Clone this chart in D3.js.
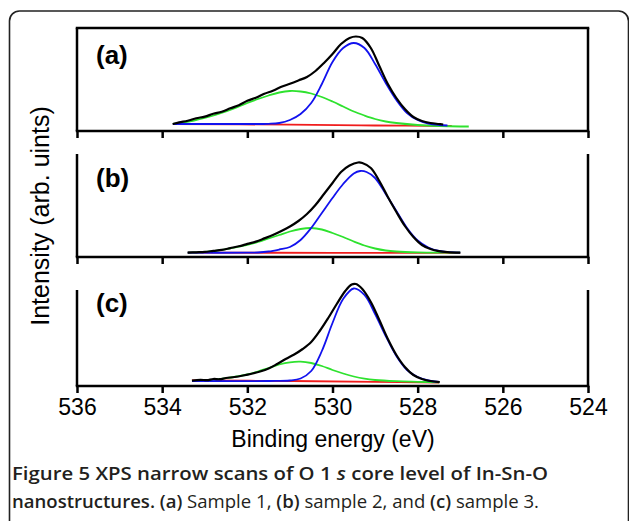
<!DOCTYPE html>
<html>
<head>
<meta charset="utf-8">
<script src="https://cdn.jsdelivr.net/npm/d3@7"></script>
<style>
  body { margin: 0; background: #fff; }
  svg { display: block; }
</style>
</head>
<body>
<div id="chart"></div>
<script>
// x ticks (binding energy, eV)
const energyTicks = [536, 534, 532, 530, 528, 526, 524];

// panel (a) - sample 1, [eV, intensity]
const blackA = [[533.75,7],[533.6,8.6],[533.4,10.3],[533.2,12.7],[533.0,14.4],[532.8,17.2],[532.6,19.3],[532.4,22.7],[532.2,25.8],[532.0,30.2],[531.8,33.3],[531.6,37.2],[531.4,40.3],[531.2,44.2],[531.0,47.3],[530.8,50.6],[530.6,54],[530.4,60],[530.2,68],[530.0,77],[529.8,87],[529.6,93],[529.45,94.5],[529.3,93],[529.1,83],[528.9,65],[528.7,47],[528.5,33],[528.3,22],[528.1,14],[527.9,10],[527.7,8],[527.5,7],[527.4,6.5]];
const blueA = [[533.75,7],[532.5,7],[531.5,7.2],[531.25,8],[531.0,11],[530.75,17],[530.5,28],[530.25,47],[530.0,69],[529.75,83],[529.5,88],[529.25,83],[529.0,67],[528.75,48],[528.5,31],[528.25,18],[528.0,11],[527.75,7.5],[527.5,6],[527.3,5.5]];
const greenA = [[533.75,7],[533.5,8.5],[533.25,10.5],[533.0,13],[532.75,16],[532.5,19.5],[532.25,23.5],[532.0,28],[531.75,32],[531.5,35.5],[531.25,38.5],[531.0,40],[530.75,39.5],[530.5,37.5],[530.25,34],[530.0,29.5],[529.75,24.5],[529.5,19.5],[529.25,15.5],[529.0,12],[528.75,9.5],[528.5,8],[528.0,6],[527.5,5],[527.0,4.5],[526.8,4.5]];
const redA = [[533.75,7],[531.0,6.3],[529.0,5.5],[527.2,5]];

// panel (b) - sample 2
const blackB = [[533.4,4.3],[533.2,4.7],[533.0,5.1],[532.8,6.1],[532.6,7.1],[532.4,8.9],[532.2,10.7],[532.0,13.1],[531.8,15.4],[531.6,18.6],[531.4,22],[531.2,26],[531.0,30.5],[530.8,36],[530.6,43],[530.4,52],[530.2,63],[530.0,74],[529.8,85],[529.6,91.5],[529.4,94.5],[529.3,94],[529.1,89],[528.9,76],[528.7,60],[528.5,45],[528.3,31],[528.1,20],[527.9,12],[527.7,8],[527.5,5.8],[527.3,4.8],[527.0,4.3]];
const blueB = [[533.4,4.3],[532.0,4.3],[531.75,4.5],[531.5,5.5],[531.25,7.5],[531.0,10],[530.75,17],[530.5,29],[530.25,44],[530.0,59],[529.75,73],[529.5,83.5],[529.35,86],[529.2,85],[529.0,79],[528.75,63],[528.5,46],[528.25,29],[528.0,16.5],[527.75,9.5],[527.5,6],[527.25,4.8],[527.0,4.3]];
const greenB = [[533.4,4.3],[533.0,5],[532.75,6],[532.5,7.8],[532.25,9.8],[532.0,12],[531.75,15],[531.5,18.5],[531.25,22],[531.0,25.5],[530.75,28],[530.5,29],[530.25,27.5],[530.0,24],[529.75,20],[529.5,15.5],[529.25,11.5],[529.0,8.5],[528.75,6.5],[528.5,5.5],[528.0,4.6],[527.5,4.3],[527.0,4.3]];
const redB = [[533.4,4.3],[530.0,4.2],[527.0,4.1]];

// panel (c) - sample 3
const blackC = [[533.3,5.3],[533.1,6.2],[532.95,5.8],[532.8,7],[532.65,6.8],[532.5,8],[532.3,9],[532.1,10.5],[531.9,12.3],[531.7,14.5],[531.5,17.5],[531.3,22],[531.1,27],[530.9,31.5],[530.7,37],[530.5,44],[530.3,55],[530.1,68],[529.9,82],[529.7,95],[529.55,101.5],[529.45,102],[529.3,97],[529.1,84],[528.9,66],[528.7,47],[528.5,31],[528.3,19],[528.1,11],[527.9,7],[527.7,5],[527.48,3.8]];
const blueC = [[533.3,5],[531.5,5],[531.0,5.5],[530.75,7.5],[530.5,15],[530.25,35],[530.0,63],[529.75,87],[529.5,97.5],[529.25,91],[529.0,72],[528.75,50],[528.5,30],[528.25,16],[528.0,9],[527.75,5.5],[527.5,4]];
const greenC = [[533.3,5],[533.0,5.5],[532.75,6.5],[532.5,7.8],[532.25,9.5],[532.0,11.5],[531.75,14.5],[531.5,18],[531.25,21.5],[531.0,23.7],[530.75,24.3],[530.5,23],[530.25,20],[530.0,16],[529.75,12.5],[529.5,9.5],[529.25,7.3],[529.0,6],[528.5,4.8],[528.0,4.2],[527.5,3.7]];
const redC = [[533.3,5.5],[531.0,5],[529.0,4.2],[527.5,3.5]];

const panelLabels = ["(a)", "(b)", "(c)"];

const width = 629;
const height = 521;

const svg = d3.select("#chart")
  .append("svg")
  .attr("width", width)
  .attr("height", height);

// rounded box round figure + caption
svg.append("rect")
  .attr("x", 9.5)
  .attr("y", 11)
  .attr("width", 619)
  .attr("height", 540)
  .attr("rx", 10)
  .attr("fill", "none")
  .attr("stroke", "#222")
  .attr("stroke-width", 1.6);

const x = d3.scaleLinear()
  .domain([536, 524])
  .range([77, 588]);

const panels = [
  { label: panelLabels[0], top: 28, bottom: 131, frame: true, series: [redA, greenA, blueA, blackA] },
  { label: panelLabels[1], top: 154, bottom: 257, frame: false, series: [redB, greenB, blueB, blackB] },
  { label: panelLabels[2], top: 290, bottom: 386, frame: false, series: [redC, greenC, blueC, blackC] }
];
const colors = ["#f01c1c", "#2ee22e", "#1212ee", "#000"];
const widths = [1.8, 1.8, 1.8, 2.2];

const font = "'Liberation Sans', Arial, sans-serif";

panels.forEach((p, i) => {
  const y = d3.scaleLinear()
    .domain([0, 100])
    .range([p.bottom, p.bottom - 100]);

  const g = svg.append("g");

  const line = d3.line()
    .curve(d3.curveCatmullRom)
    .x(d => x(d[0]))
    .y(d => y(d[1]));

  p.series.forEach((s, k) => {
    g.append("path")
      .datum(s)
      .attr("fill", "none")
      .attr("stroke", colors[k])
      .attr("stroke-width", widths[k])
      .attr("stroke-linejoin", "round")
      .attr("d", line);
  });

  // frame
  g.append("line")
    .attr("x1", x(536)).attr("x2", x(536))
    .attr("y1", p.top).attr("y2", p.bottom)
    .attr("stroke", "#000").attr("stroke-width", 2.5);
  g.append("line")
    .attr("x1", x(524)).attr("x2", x(524))
    .attr("y1", p.top).attr("y2", p.bottom)
    .attr("stroke", "#000").attr("stroke-width", 2.5);
  if (p.frame) {
    g.append("line")
      .attr("x1", x(536) - 1.25).attr("x2", x(524) + 1.25)
      .attr("y1", p.top).attr("y2", p.top)
      .attr("stroke", "#000").attr("stroke-width", 2.5);
  }

  const axis = d3.axisBottom(x)
    .tickValues(energyTicks)
    .tickSize(7)
    .tickSizeOuter(0)
    .tickPadding(6)
    .tickFormat(i === 2 ? d3.format("d") : "");

  const ax = g.append("g")
    .attr("transform", `translate(0,${p.bottom})`)
    .call(axis);
  ax.select(".domain").attr("stroke-width", 2.5).attr("d", `M${x(536) - 1.25},0H${x(524) + 1.25}`);
  ax.selectAll(".tick line").attr("stroke-width", 2.5);
  ax.selectAll(".tick text")
    .attr("font-family", font)
    .attr("font-size", 23)
    .attr("fill", "#000");

  g.append("text")
    .attr("x", 96)
    .attr("y", [64, 187, 312][i])
    .attr("font-family", font)
    .attr("font-weight", "bold")
    .attr("font-size", 26)
    .text(p.label);
});

svg.append("text")
  .attr("x", 333)
  .attr("y", 447)
  .attr("text-anchor", "middle")
  .attr("font-family", font)
  .attr("font-size", 23)
  .text("Binding energy (eV)");

svg.append("text")
  .attr("transform", "translate(49,216) rotate(-90)")
  .attr("text-anchor", "middle")
  .attr("font-family", font)
  .attr("font-size", 25)
  .text("Intensity (arb. uints)");

// caption
const capFont = "'Open Sans', 'Noto Sans', sans-serif";
const cap1 = svg.append("text")
  .attr("x", 12)
  .attr("y", 480)
  .attr("font-family", capFont)
  .attr("font-size", 18)
  .attr("font-weight", 600)
  .attr("fill", "#231f20")
  .attr("textLength", 536)
  .attr("lengthAdjust", "spacingAndGlyphs");
cap1.append("tspan").text("Figure 5 XPS narrow scans of O 1 ");
cap1.append("tspan").attr("font-style", "italic").text("s");
cap1.append("tspan").text(" core level of In-Sn-O");

const cap2 = svg.append("text")
  .attr("x", 12)
  .attr("y", 508)
  .attr("font-family", capFont)
  .attr("font-size", 18)
  .attr("fill", "#231f20")
  .attr("textLength", 527)
  .attr("lengthAdjust", "spacingAndGlyphs");
cap2.append("tspan").attr("font-weight", 600).text("nanostructures. (a)");
cap2.append("tspan").text(" Sample 1, ");
cap2.append("tspan").attr("font-weight", 600).text("(b)");
cap2.append("tspan").text(" sample 2, and ");
cap2.append("tspan").attr("font-weight", 600).text("(c)");
cap2.append("tspan").text(" sample 3.");
</script>
</body>
</html>
